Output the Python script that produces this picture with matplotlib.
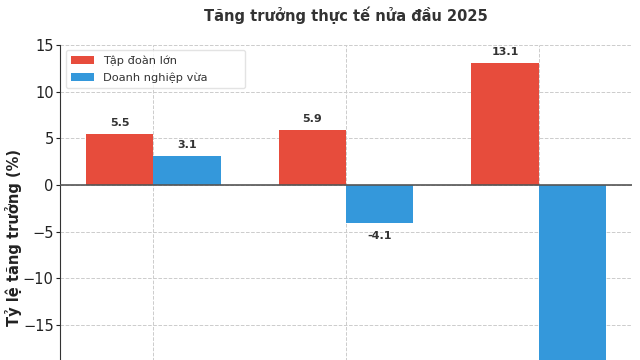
import matplotlib
matplotlib.use("Agg")
import matplotlib.pyplot as plt
import numpy as np

categories = ["Quý 1", "Quý 2", "Nửa đầu 2025"]
series_names = ["Tập đoàn lớn", "Doanh nghiệp vừa"]
tap_doan = [5.5, 5.9, 13.1]
doanh_nghiep = [3.1, -4.1, -21.6]
colors = ["#E74C3C", "#3498DB"]

fig = plt.figure(figsize=(6.4, 3.6), dpi=100)
y_top, y_bot = 15, -25
px_per_unit = 140 / 15.0
ax_h_px = (y_top - y_bot) * px_per_unit
top_frac = 1 - 45 / 360
ax = fig.add_axes([60 / 640, top_frac - ax_h_px / 360, (632 - 60) / 640, ax_h_px / 360])

x = np.arange(len(categories))
w = 0.35
b1 = ax.bar(x - w / 2, tap_doan, w, color=colors[0], label=series_names[0], zorder=3)
b2 = ax.bar(x + w / 2, doanh_nghiep, w, color=colors[1], label=series_names[1], zorder=3)

visible_low = -18.5  # lower edge of the visible picture
for bars in (b1, b2):
    for r in bars:
        v = r.get_height()
        cx = r.get_x() + r.get_width() / 2
        if v >= 0:
            ax.text(cx, v + 0.6, f"{v:.1f}", ha="center", va="bottom",
                    fontsize=8, fontweight="bold", color="#333333", zorder=4)
        elif v > visible_low:
            ax.text(cx, v - 0.8, f"{v:.1f}", ha="center", va="top",
                    fontsize=8, fontweight="bold", color="#333333", zorder=4)

ax.axhline(0, color="#555555", linewidth=1.2, zorder=4)
ax.set_ylim(y_bot, y_top)
ax.set_xticks(x)
ax.set_xticklabels([])
ax.tick_params(axis="x", length=0)
ax.set_yticks([15, 10, 5, 0, -5, -10, -15])
ax.tick_params(axis="y", labelsize=10.5, colors="#222222", length=3, pad=1.5)
ax.grid(True, linestyle="--", color="#cccccc", linewidth=0.7, zorder=0)
ax.spines["top"].set_visible(False)
ax.spines["right"].set_visible(False)
ax.spines["left"].set_color("#333333")
fig.text(14 / 640, 1 - 237 / 360, "Tỷ lệ tăng trưởng (%)", rotation=90, ha="center",
         va="center", fontsize=10.5, fontweight="bold", color="#222222")

lx0 = (66 - 60) / 572
lw = (245 - 66) / 572
ly1 = 1 - (50 - 45) / ax_h_px
lh = 38 / ax_h_px
leg = ax.legend(loc="upper left", bbox_to_anchor=(lx0, ly1 - lh, lw, lh), mode="expand",
                borderaxespad=0, fontsize=8.2, frameon=True, edgecolor="#dddddd",
                fancybox=True, borderpad=0.45, labelspacing=0.6)
for t in leg.get_texts():
    t.set_color("#333333")
fig.text(346 / 640, 1 - 15 / 360, "Tăng trưởng thực tế nửa đầu 2025", ha="center",
         va="center", fontsize=10.5, fontweight="bold", color="#333333")
fig.savefig("out.png", dpi=100)
